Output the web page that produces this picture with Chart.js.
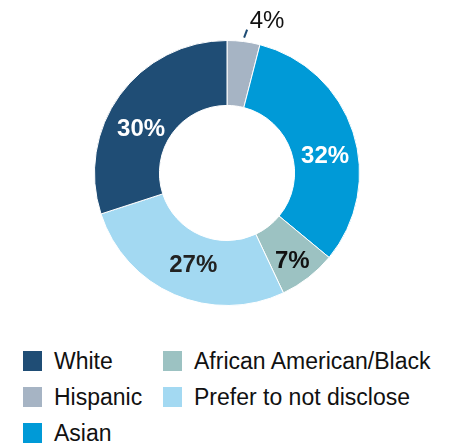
<!DOCTYPE html>
<html>
<head>
<meta charset="utf-8">
<script src="https://cdn.jsdelivr.net/npm/chart.js@4/dist/chart.umd.min.js"></script>
<style>
  body { margin: 0; background: #fff; font-family: "Liberation Sans", Arial, sans-serif; }
  #wrap { position: relative; width: 454px; height: 320px; }
  #legend { position: absolute; left: 23px; top: 351px; width: 430px; }
  .item { position: absolute; display: flex; align-items: center; font-size: 23px; color: #111; white-space: nowrap; line-height: 20px; }
  .box { width: 19px; height: 20px; margin-right: 12px; }
</style>
</head>
<body>
<div id="wrap"><canvas id="donut"></canvas></div>
<div id="legend"></div>
<script>
// dữ liệu lấy từ hình
var labels = ['Hispanic', 'Asian', 'African American/Black', 'Prefer to not disclose', 'White'];
var values = [4, 32, 7, 27, 30];
var colors = ['#a6b4c4', '#009ad7', '#9cc2c2', '#a3d9f2', '#1f4d75'];
var labelColors = ['#111', '#fff', '#111', '#222', '#fff'];
// dịch nhãn một chút cho giống hình gốc
var labelShift = [[0, 0], [3, 14], [4, 9], [6, 1], [-5, 15]];

// thứ tự chú thích như hình (theo cột)
var legendOrder = ['White', 'Hispanic', 'Asian', 'African American/Black', 'Prefer to not disclose'];

var percentLabels = {
    id: 'percentLabels',
    afterDatasetsDraw: function (chart) {
        var ctx = chart.ctx;
        var meta = chart.getDatasetMeta(0);
        ctx.save();
        ctx.textAlign = 'center';
        ctx.textBaseline = 'middle';
        meta.data.forEach(function (arc, i) {
            var v = values[i];
            var mid = (arc.startAngle + arc.endAngle) / 2;
            if (v < 5) {
                // nhãn nhỏ nằm ngoài, có đường dẫn
                var r1 = arc.outerRadius + 4, r2 = arc.outerRadius + 12;
                ctx.strokeStyle = '#1f4d75';
                ctx.lineWidth = 2;
                ctx.beginPath();
                ctx.moveTo(arc.x + Math.cos(mid) * r1, arc.y + Math.sin(mid) * r1);
                ctx.lineTo(arc.x + Math.cos(mid) * r2 + 2, arc.y + Math.sin(mid) * r2);
                ctx.stroke();
                ctx.fillStyle = '#111';
                ctx.font = '24px "Liberation Sans", Arial, sans-serif';
                ctx.fillText(v + '%', arc.x + Math.cos(mid) * r2 + 22, arc.y + Math.sin(mid) * r2 - 8);
            } else {
                var r = (arc.innerRadius + arc.outerRadius) / 2;
                ctx.fillStyle = labelColors[i];
                ctx.font = 'bold 24px "Liberation Sans", Arial, sans-serif';
                ctx.fillText(v + '%', arc.x + Math.cos(mid) * r + labelShift[i][0], arc.y + Math.sin(mid) * r + labelShift[i][1]);
            }
        });
        ctx.restore();
    }
};

new Chart(document.getElementById('donut'), {
    type: 'doughnut',
    data: {
        labels: labels,
        datasets: [{
            data: values,
            backgroundColor: colors,
            borderColor: '#fff',
            borderWidth: 1
        }]
    },
    options: {
        responsive: true,
        maintainAspectRatio: false,
        animation: false,
        cutout: '51%',
        layout: { padding: { top: 40, bottom: 14 } },
        plugins: {
            legend: { display: false },
            tooltip: { enabled: false }
        }
    },
    plugins: [percentLabels]
});

// chú thích HTML
var legend = document.getElementById('legend');
legendOrder.forEach(function (name, k) {
    var i = labels.indexOf(name);
    var col = k < 3 ? 0 : 1;
    var row = k < 3 ? k : k - 3;
    var el = document.createElement('div');
    el.className = 'item';
    el.style.left = (col * 140) + 'px';
    el.style.top = (row * 36) + 'px';
    el.innerHTML = '<div class="box" style="background:' + colors[i] + '"></div><span>' + name + '</span>';
    legend.appendChild(el);
});
</script>
</body>
</html>
